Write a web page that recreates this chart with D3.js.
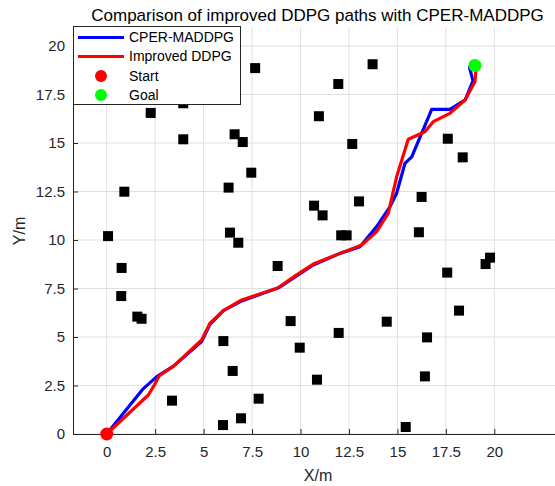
<!DOCTYPE html>
<html>
<head>
<meta charset="utf-8">
<script src="https://cdn.jsdelivr.net/npm/d3@7"></script>
<style>
  body { margin: 0; background: #fff; }
  svg { display: block; font-family: "Liberation Sans", Arial, sans-serif; }
</style>
</head>
<body>
<script>
// ticks
const xTicks = [0, 2.5, 5, 7.5, 10, 12.5, 15, 17.5, 20]
const yTicks = [0, 2.5, 5, 7.5, 10, 12.5, 15, 17.5, 20]

// obstacles
const obstacleX = [0.07, 0.91, 0.77, 0.75, 1.58, 1.8, 2.27, 3.95, 3.95, 3.37, 6.02, 6.5, 6.0, 6.93, 7.84, 6.29, 6.36, 6.79, 6.6, 7.02, 7.46, 7.66, 8.82, 9.49, 9.96, 10.85, 10.7, 11.14, 10.95, 11.95, 13.72, 12.67, 13.02, 12.1, 12.38, 11.97, 14.45, 15.43, 16.42, 16.53, 16.11, 16.25, 17.57, 17.6, 18.37, 18.18, 19.55, 19.78]
const obstacleY = [10.2, 12.49, 8.56, 7.11, 6.05, 5.94, 16.55, 15.19, 17.05, 1.72, 4.79, 3.25, 0.46, 0.81, 1.82, 12.7, 10.38, 9.86, 15.45, 15.05, 13.47, 18.86, 8.66, 5.82, 4.45, 2.8, 11.77, 11.27, 16.38, 18.04, 19.06, 14.95, 11.99, 10.24, 10.24, 5.21, 5.79, 0.36, 2.97, 4.98, 10.4, 12.22, 8.32, 15.22, 14.26, 6.36, 8.76, 9.09]

// CPER-MADDPG path
const cperX = [0, 1.85, 2.6, 3.45, 4.9, 5.33, 6.02, 6.97, 8.9, 10.66, 12.04, 13.07, 13.93, 14.62, 14.96, 15.39, 15.74, 16.77, 17.71, 18.5, 18.9, 18.72, 19.0]
const cperY = [0, 2.3, 2.97, 3.5, 4.76, 5.65, 6.36, 6.86, 7.55, 8.71, 9.31, 9.65, 10.69, 11.72, 12.41, 13.95, 14.29, 16.73, 16.73, 17.22, 18.2, 18.9, 19.0]

// Improved DDPG path
const ddpgX = [0, 2.15, 2.5, 2.7, 3.45, 4.9, 5.33, 6.02, 6.97, 8.8, 9.8, 10.66, 12.04, 13.16, 13.93, 14.53, 14.96, 15.56, 16.42, 16.85, 17.71, 18.49, 19.0, 19.06, 19.0]
const ddpgY = [0, 2.01, 2.6, 2.99, 3.5, 4.85, 5.71, 6.36, 6.91, 7.51, 8.2, 8.76, 9.31, 9.74, 10.43, 11.38, 13.26, 15.19, 15.58, 16.1, 16.53, 17.22, 18.16, 18.85, 19.0]

const start = [0, 0]
const goal = [19, 19]

const legendNames = ["CPER-MADDPG", "Improved DDPG", "Start", "Goal"]

const width = 555, height = 486
const plotLeft = 73, plotRight = 555, plotTop = 27, plotBottom = 434
const textColor = "#262626"

const svg = d3.select("body").append("svg").attr("width", width).attr("height", height)

const x = d3.scaleLinear().domain([0, 20]).range([106.7, 494.3])
const y = d3.scaleLinear().domain([0, 20]).range([434, 46])

// grid
svg.append("g").selectAll("line").data(xTicks).enter().append("line")
  .attr("x1", d => x(d)).attr("x2", d => x(d)).attr("y1", plotTop).attr("y2", plotBottom)
  .attr("stroke", "#dfdfdf").attr("stroke-width", 1)
svg.append("g").selectAll("line").data(yTicks).enter().append("line")
  .attr("x1", plotLeft).attr("x2", plotRight).attr("y1", d => y(d)).attr("y2", d => y(d))
  .attr("stroke", "#dfdfdf").attr("stroke-width", 1)

// axes
let xAxis = svg.append("g").attr("transform", "translate(0," + plotBottom + ")")
  .call(d3.axisBottom(x).tickValues(xTicks).tickSizeInner(-5).tickSizeOuter(0).tickPadding(12).tickFormat(d3.format("")))
xAxis.select(".domain").attr("d", "M" + plotLeft + ",0.5H" + plotRight)
let yAxis = svg.append("g").attr("transform", "translate(" + plotLeft + ",0)")
  .call(d3.axisLeft(y).tickValues(yTicks).tickSizeInner(-5).tickSizeOuter(0).tickPadding(8).tickFormat(d3.format("")))
yAxis.select(".domain").attr("d", "M0.5," + plotTop + "V" + plotBottom)
svg.selectAll(".domain").attr("stroke", textColor)
svg.selectAll(".tick line").attr("stroke", textColor)
svg.selectAll(".tick text").attr("fill", textColor).style("font-size", "15px").style("font-family", "Liberation Sans, Arial, sans-serif")

// obstacles
const sq = 10
svg.append("g").selectAll("rect").data(obstacleX).enter().append("rect")
  .attr("x", (d, i) => x(d) - sq / 2).attr("y", (d, i) => y(obstacleY[i]) - sq / 2)
  .attr("width", sq).attr("height", sq).attr("fill", "#000")

// paths
const line = d3.line().x(d => x(d[0])).y(d => y(d[1]))
svg.append("path").datum(cperX.map((d, i) => [d, cperY[i]]))
  .attr("d", line).attr("fill", "none").attr("stroke", "#0000ff").attr("stroke-width", 3.2).attr("stroke-linejoin", "round")
svg.append("path").datum(ddpgX.map((d, i) => [d, ddpgY[i]]))
  .attr("d", line).attr("fill", "none").attr("stroke", "#ff0000").attr("stroke-width", 3.2).attr("stroke-linejoin", "round")

svg.append("circle").attr("cx", x(start[0])).attr("cy", y(start[1])).attr("r", 6.5).attr("fill", "#ff0000")
svg.append("circle").attr("cx", x(goal[0])).attr("cy", y(goal[1])).attr("r", 6.5).attr("fill", "#00ff00")

// title and labels
svg.append("text").attr("x", 317.5).attr("y", 21).attr("text-anchor", "middle")
  .style("font-size", "17px").attr("fill", "#000").text("Comparison of improved DDPG paths with CPER-MADDPG")
svg.append("text").attr("x", 318).attr("y", 481).attr("text-anchor", "middle")
  .style("font-size", "16px").attr("fill", textColor).text("X/m")
svg.append("text").attr("transform", "translate(25,231) rotate(-90)").attr("text-anchor", "middle")
  .style("font-size", "16px").attr("fill", textColor).text("Y/m")

// legend
let legend = svg.append("g")
legend.append("rect").attr("x", 73.5).attr("y", 26.5).attr("width", 167).attr("height", 78)
  .attr("fill", "#fff").attr("stroke", textColor).attr("stroke-width", 1)
const rowY = [37.5, 56.5, 76, 95]
legend.selectAll("text").data(legendNames).enter().append("text")
  .attr("x", 129).attr("y", (d, i) => rowY[i]).attr("dy", "0.35em")
  .style("font-size", "14px").attr("fill", "#000").text(d => d)
legend.append("line").attr("x1", 78).attr("x2", 124).attr("y1", rowY[0]).attr("y2", rowY[0]).attr("stroke", "#0000ff").attr("stroke-width", 3)
legend.append("line").attr("x1", 78).attr("x2", 124).attr("y1", rowY[1]).attr("y2", rowY[1]).attr("stroke", "#ff0000").attr("stroke-width", 3)
legend.append("circle").attr("cx", 101).attr("cy", rowY[2]).attr("r", 6).attr("fill", "#ff0000")
legend.append("circle").attr("cx", 101).attr("cy", rowY[3]).attr("r", 6).attr("fill", "#00ff00")
</script>
</body>
</html>
